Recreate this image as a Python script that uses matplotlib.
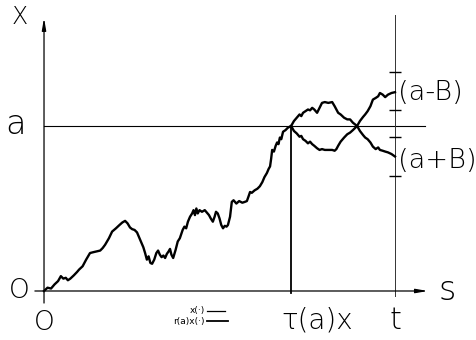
import numpy as np
import matplotlib.pyplot as plt

plt.rcParams['font.family'] = ['DejaVu Sans']

# level a and terminal time t (s runs from 0 to t)
a = 1.0
t_end = 1.0
tau = 0.704

# path x(s) up to the hitting time tau(a)
s_before = [0.00, 0.01, 0.02, 0.03, 0.04, 0.048, 0.055, 0.062, 0.068, 0.075,
            0.085, 0.094, 0.10, 0.11, 0.12, 0.131, 0.14, 0.15, 0.16, 0.167,
            0.174, 0.185, 0.194, 0.205, 0.215, 0.223, 0.231, 0.238, 0.245, 0.251,
            0.258, 0.265, 0.272, 0.278, 0.283, 0.288, 0.293, 0.298, 0.303, 0.308,
            0.314, 0.320, 0.325, 0.330, 0.335, 0.340, 0.345, 0.350, 0.355, 0.359,
            0.363, 0.368, 0.375, 0.381, 0.387, 0.395, 0.40, 0.405, 0.41, 0.416,
            0.422, 0.426, 0.430, 0.434, 0.438, 0.443, 0.450, 0.458, 0.464, 0.470,
            0.475, 0.481, 0.486, 0.490, 0.495, 0.500, 0.505, 0.510, 0.515, 0.520,
            0.524, 0.530, 0.535, 0.540, 0.548, 0.556, 0.565, 0.572, 0.578, 0.583,
            0.587, 0.592, 0.600, 0.608, 0.615, 0.622, 0.628, 0.635, 0.640, 0.644,
            0.647, 0.650, 0.655, 0.660, 0.664, 0.668, 0.672, 0.676, 0.681, 0.688,
            0.695, 0.704]
x_before = [0.00, 0.02, 0.015, 0.04, 0.06, 0.09, 0.075, 0.08, 0.065, 0.075,
            0.095, 0.115, 0.13, 0.15, 0.19, 0.23, 0.235, 0.24, 0.245, 0.26,
            0.28, 0.32, 0.36, 0.38, 0.40, 0.415, 0.425, 0.41, 0.385, 0.375,
            0.37, 0.355, 0.32, 0.29, 0.265, 0.23, 0.19, 0.21, 0.17, 0.165,
            0.19, 0.23, 0.245, 0.22, 0.205, 0.215, 0.20, 0.225, 0.24, 0.255,
            0.22, 0.20, 0.25, 0.30, 0.32, 0.37, 0.39, 0.38, 0.42, 0.45,
            0.47, 0.49, 0.46, 0.50, 0.47, 0.49, 0.48, 0.49, 0.475, 0.46,
            0.44, 0.42, 0.45, 0.48, 0.47, 0.44, 0.40, 0.38, 0.395, 0.39,
            0.40, 0.45, 0.54, 0.55, 0.53, 0.545, 0.535, 0.54, 0.545, 0.575,
            0.60, 0.595, 0.61, 0.62, 0.635, 0.66, 0.69, 0.715, 0.74, 0.755,
            0.80, 0.855, 0.845, 0.88, 0.90, 0.89, 0.93, 0.92, 0.965, 0.975,
            0.99, 1.00]

# after tau: the path itself and its reflection about a
s_after = [0.704, 0.712, 0.720, 0.728, 0.733, 0.738, 0.745, 0.752, 0.758, 0.764,
           0.770, 0.778, 0.785, 0.792, 0.800, 0.810, 0.821, 0.828, 0.833, 0.838,
           0.845, 0.855, 0.864, 0.872, 0.880, 0.892, 0.900, 0.909, 0.915, 0.922,
           0.930, 0.937, 0.945, 0.952, 0.957, 0.965, 0.972, 0.980, 0.990, 1.000]
x_after = [1.00, 1.03, 1.05, 1.07, 1.06, 1.08, 1.09, 1.10, 1.095, 1.11,
           1.10, 1.08, 1.11, 1.14, 1.145, 1.14, 1.145, 1.12, 1.10, 1.08,
           1.07, 1.05, 1.04, 1.04, 1.02, 1.00, 0.97, 0.945, 0.93, 0.92,
           0.90, 0.875, 0.86, 0.87, 0.855, 0.85, 0.845, 0.84, 0.83, 0.815]
x_reflected = [1.00, 0.97, 0.955, 0.935, 0.94, 0.92, 0.91, 0.895, 0.905, 0.89,
               0.88, 0.865, 0.855, 0.86, 0.855, 0.855, 0.855, 0.85, 0.86, 0.88,
               0.905, 0.93, 0.95, 0.96, 0.975, 1.00, 1.03, 1.055, 1.07, 1.09,
               1.12, 1.16, 1.17, 1.18, 1.20, 1.19, 1.175, 1.19, 1.20, 1.205]

# bracket marks on the line s = t
bracket_mid = [1.212, 0.815]
bracket_half = [0.115, 0.118]
bracket_labels = ['(a-B)', '(a+B)']
label_y = [1.20, 0.79]

fig = plt.figure(figsize=(4.77, 3.40), dpi=100)
ax = fig.add_axes([0, 0, 1, 1])
ax.set_xlim(-0.1254, 1.2336)
ax.set_ylim(-0.297, 1.7636)
ax.axis('off')

k = 'black'

# axes with arrows
ax.annotate('', xy=(0, 1.655), xytext=(0, -0.073),
            arrowprops=dict(arrowstyle='-|>,head_length=0.7,head_width=0.12',
                            lw=0.9, color=k, shrinkA=0, shrinkB=0))
ax.annotate('', xy=(1.094, 0), xytext=(-0.026, 0),
            arrowprops=dict(arrowstyle='-|>,head_length=0.7,head_width=0.12',
                            lw=0.9, color=k, shrinkA=0, shrinkB=0))

# level a, hitting time and terminal time
ax.plot([0, 1.085], [a, a], color=k, lw=0.8)
ax.plot([tau, tau], [-0.01, a], color=k, lw=1.3)
ax.plot([t_end, t_end], [-0.03, 1.673], color='#333333', lw=0.7)

# the paths
ax.plot(s_before, x_before, color=k, lw=1.7)
ax.plot(s_after, x_after, color=k, lw=1.7)
ax.plot(s_after, x_reflected, color=k, lw=1.7)

ax.errorbar([t_end, t_end], bracket_mid, yerr=bracket_half, fmt='none',
            ecolor=k, elinewidth=0, capsize=4, capthick=1.0)
for y, lab in zip(label_y, bracket_labels):
    ax.text(1.008, y, lab, fontsize=19.5, ha='left', va='center',
            fontweight='light')

fs = dict(fontweight='light', color=k)
ax.text(-0.07, 1.66, 'X', fontsize=17, ha='center', va='center', **fs)
ax.text(-0.08, a + 0.01, 'a', fontsize=24, ha='center', va='center', **fs)
ax.text(-0.07, 0.0, 'O', fontsize=19, ha='center', va='center', **fs)
ax.text(0.0, -0.19, 'O', fontsize=19, ha='center', va='center', **fs)
ax.text(1.148, 0.005, 's', fontsize=24, ha='center', va='center', **fs)
ax.text(t_end, -0.18, 't', fontsize=22, ha='center', va='center', **fs)
ax.text(tau + 0.075, -0.18, 'τ(a)x', fontsize=20, ha='center', va='center', **fs)

# small legend for the two paths
ax.text(0.458, -0.121, 'x(·)', fontsize=6.5, ha='right', va='center')
ax.text(0.458, -0.182, 'r(a)x(·)', fontsize=6.5, ha='right', va='center')
ax.plot([0.464, 0.516], [-0.121, -0.121], color=k, lw=0.9)
ax.plot([0.464, 0.524], [-0.182, -0.182], color=k, lw=1.3)

fig.savefig('out.png', dpi=100)
